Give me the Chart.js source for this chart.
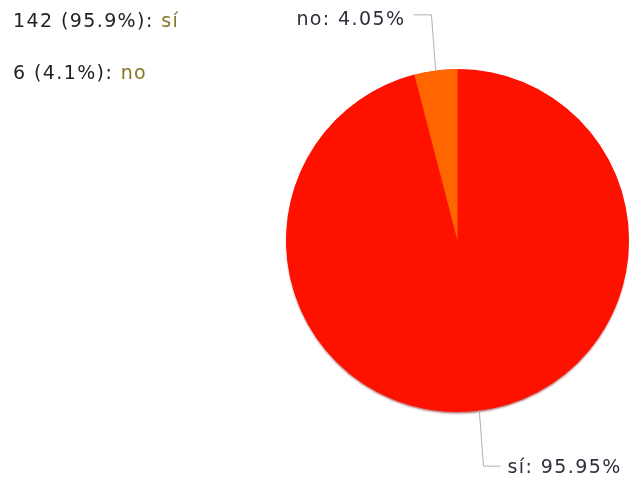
<!DOCTYPE html>
<html>
<head>
<meta charset="utf-8">
<script src="https://cdn.jsdelivr.net/npm/chart.js@4/dist/chart.umd.min.js"></script>
<style>
  html, body { margin: 0; padding: 0; background: #fff; }
  #wrap { width: 629px; height: 481px; position: relative; }
</style>
</head>
<body>
<div id="wrap"><canvas id="pieChart" width="629" height="481"></canvas></div>
<script>
const categories = ['sí', 'no'];
const counts = [142, 6];
const percentShort = ['95.9%', '4.1%'];
const percentLong = ['95.95%', '4.05%'];
const sliceColors = ['#ff1100', '#ff6600'];

const FONT = '19px "DejaVu Sans"';
const SPACING = '1.4px';

// soft shadow under the pie, drawn once behind the slices
const shadowPlugin = {
    id: 'pieShadow',
    beforeDatasetsDraw(chart) {
        const arc = chart.getDatasetMeta(0).data[0];
        if (!arc) return;
        const p = arc.getProps(['x', 'y', 'outerRadius'], true);
        const ctx = chart.ctx;
        ctx.save();
        ctx.shadowColor = 'rgba(120, 0, 0, 0.55)';
        ctx.shadowBlur = 2;
        ctx.shadowOffsetY = 2;
        ctx.fillStyle = sliceColors[0];
        ctx.beginPath();
        ctx.arc(p.x, p.y, p.outerRadius - 0.5, 0, Math.PI * 2);
        ctx.fill();
        ctx.restore();
    }
};

// legend at top left plus leader-line labels around the pie
const labelsPlugin = {
    id: 'pieLabels',
    afterDraw(chart) {
        const ctx = chart.ctx;
        ctx.save();
        ctx.font = FONT;
        ctx.letterSpacing = SPACING;
        ctx.textBaseline = 'middle';

        // legend lines
        categories.forEach((cat, i) => {
            const y = 22 + i * 52;
            const head = counts[i] + ' (' + percentShort[i] + '): ';
            ctx.textAlign = 'left';
            ctx.fillStyle = '#222222';
            ctx.fillText(head, 13, y);
            const w = ctx.measureText(head).width;
            ctx.fillStyle = '#877725';
            ctx.fillText(cat, 13 + w, y);
        });

        // leader lines
        const arcs = chart.getDatasetMeta(0).data;
        arcs.forEach((arc, i) => {
            const p = arc.getProps(['x', 'y', 'startAngle', 'endAngle', 'outerRadius'], true);
            const mid = (p.startAngle + p.endAngle) / 2;
            const dx = Math.cos(mid), dy = Math.sin(mid);
            const ex = p.x + dx * p.outerRadius;
            const ey = p.y + dy * p.outerRadius;
            const len = 56;
            const kx = ex + dx * len * 0.6;
            const ky = ey + dy * len;
            const hx = dy > 0 ? kx + 17 : kx - 18;
            ctx.strokeStyle = '#b0b0b0';
            ctx.lineWidth = 1;
            ctx.beginPath();
            ctx.moveTo(ex, ey);
            ctx.lineTo(kx, ky);
            ctx.lineTo(hx, ky);
            ctx.stroke();
            ctx.fillStyle = '#2e2e3c';
            const txt = categories[i] + ': ' + percentLong[i];
            if (dy > 0) {
                ctx.textAlign = 'left';
                ctx.fillText(txt, hx + 7, ky + 2);
            } else {
                ctx.textAlign = 'right';
                ctx.fillText(txt, hx - 8, ky + 5);
            }
        });
        ctx.restore();
    }
};

new Chart(document.getElementById('pieChart').getContext('2d'), {
    type: 'pie',
    data: {
        labels: categories,
        datasets: [{
            data: counts,
            backgroundColor: sliceColors,
            borderWidth: 0
        }]
    },
    options: {
        responsive: false,
        animation: false,
        layout: { padding: { left: 286, right: 0, top: 69, bottom: 69 } },
        plugins: {
            legend: { display: false },
            tooltip: { enabled: false }
        }
    },
    plugins: [shadowPlugin, labelsPlugin]
});
</script>
</body>
</html>
